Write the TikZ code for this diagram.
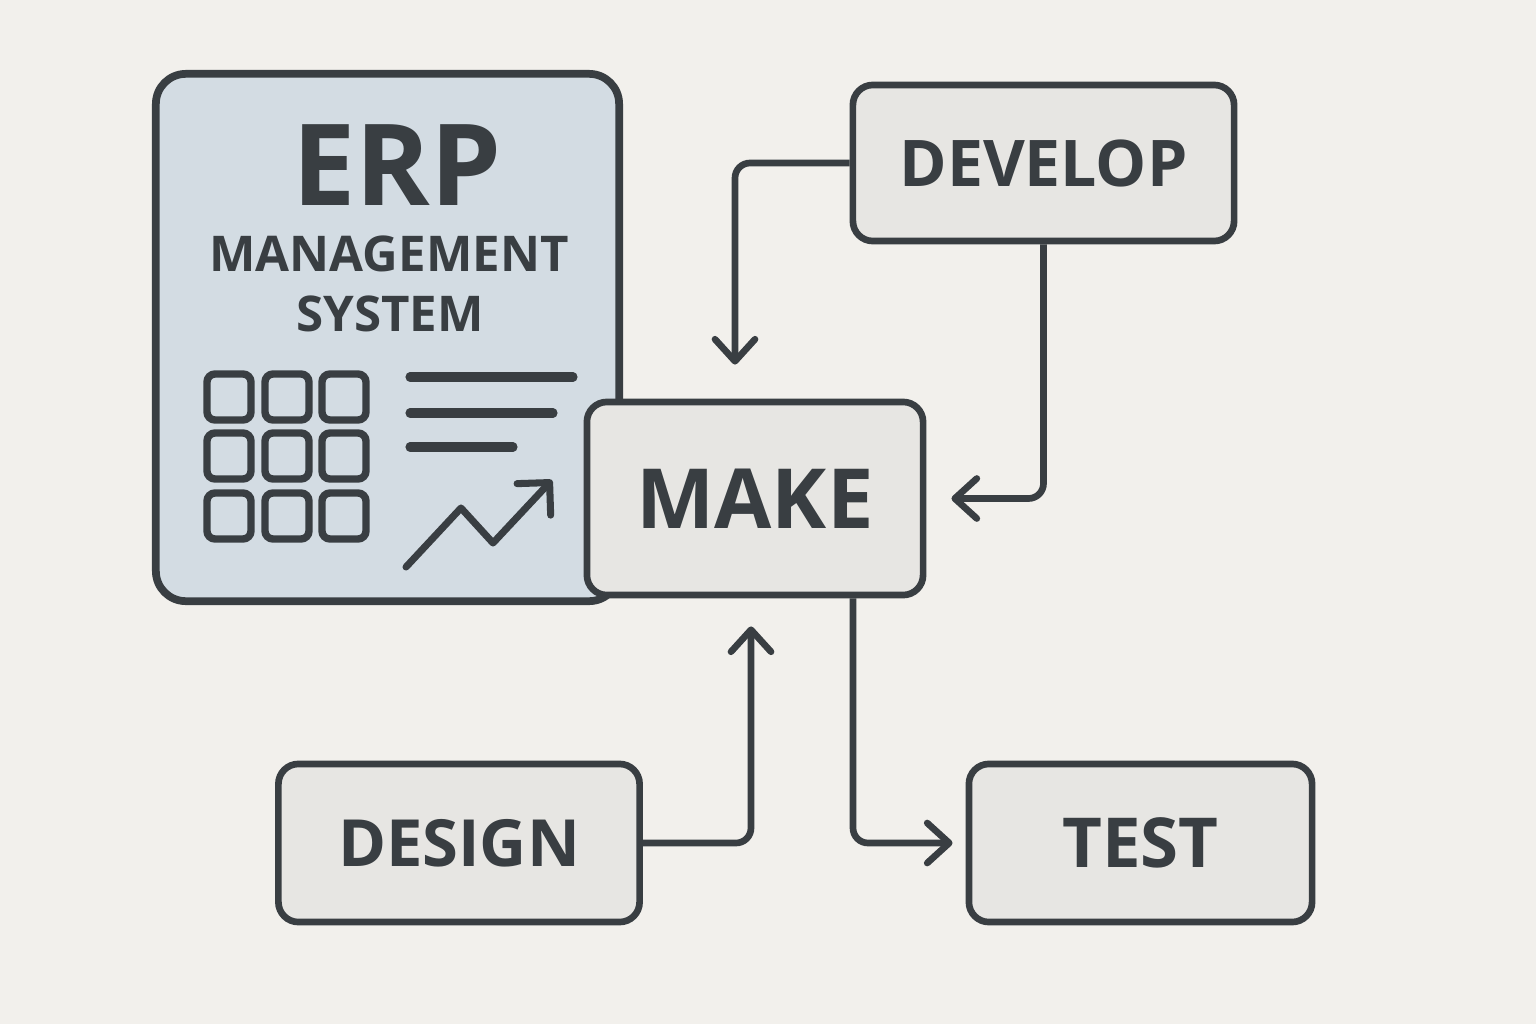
\documentclass[tikz,border=0pt]{standalone}
\usepackage{fontspec}
\setmainfont{Open Sans}
\usetikzlibrary{arrows.meta}
\definecolor{bgc}{HTML}{F2F0EC}
\definecolor{erpfill}{HTML}{D3DCE3}
\definecolor{boxfill}{HTML}{E7E6E3}
\definecolor{ink}{HTML}{393E42}
\begin{document}
\begin{tikzpicture}[x=0.01cm,y=-0.01cm,every node/.style={text=ink,inner sep=0pt},
	box/.style={draw=ink,fill=boxfill,line width=1.9pt,rounded corners=2mm},
	conn/.style={draw=ink,line width=1.9pt,rounded corners=1.5mm,-{Straight Barb[round,length=2.2mm,width=4mm]}},
	cell/.style={draw=ink,line width=2.1pt,rounded corners=0.8mm}]
	\fill[bgc] (0,0) rectangle (1536,1024);
	% ERP panel
	\node[box,fill=erpfill,line width=2.2pt,rounded corners=3mm,minimum width=4.63cm,minimum height=5.27cm] (erp) at (387.5,337.5) {};
	\node[font=\bfseries\fontsize{32.2}{33}\selectfont] (erptitle) at (397,165) {ERP};
	\node[font=\bfseries\fontsize{14}{15}\selectfont] (mgmt) at (389,254) {MANAGEMENT};
	\node[font=\bfseries\fontsize{14}{15}\selectfont] (sys) at (390,314) {SYSTEM};
	\foreach \x in {229,287,344}{
		\foreach \y in {397,456,516}{
			\draw[cell] (\x-22,\y-23) rectangle (\x+22,\y+23);
		}
	}
	\foreach \y/\l in {377/573,413/553,447/513}{
		\draw[ink,line width=2.6pt,line cap=round] (410,\y) -- (\l,\y);
	}
	\draw[ink,line width=2pt,line cap=round,line join=round,-{Straight Barb[round,length=2.3mm,width=4.6mm]}] (406,567) -- (461,508) -- (493,543) -- (552,480);
	% steps
	\node[box,minimum width=3.36cm,minimum height=1.93cm,font=\bfseries\fontsize{23.6}{24}\selectfont] (make) at (755,498.5) {MAKE};
	\node[box,minimum width=3.81cm,minimum height=1.56cm,font=\bfseries\fontsize{18.3}{19}\selectfont] (develop) at (1043.5,163) {DEVELOP};
	\node[box,minimum width=3.61cm,minimum height=1.58cm,font=\bfseries\fontsize{18.5}{19}\selectfont] (design) at (459,843) {DESIGN};
	\node[box,minimum width=3.43cm,minimum height=1.58cm,font=\bfseries\fontsize{19.6}{20}\selectfont] (test) at (1140.5,843) {TEST};
	% connectors
	\coordinate (dvx) at (735,0);
	\coordinate (dsx) at (751,0);
	\coordinate (tsx) at (853,0);
	\draw[conn,shorten >=3.4mm] (develop.west) -| (make.north -| dvx);
	\draw[conn,shorten >=2.5mm] (develop.south) |- (make.east);
	\draw[conn,shorten >=2.8mm] (design.east) -| (make.south -| dsx);
	\draw[conn,shorten >=1.3mm] (make.south -| tsx) |- (test.west);
\end{tikzpicture}
\end{document}
